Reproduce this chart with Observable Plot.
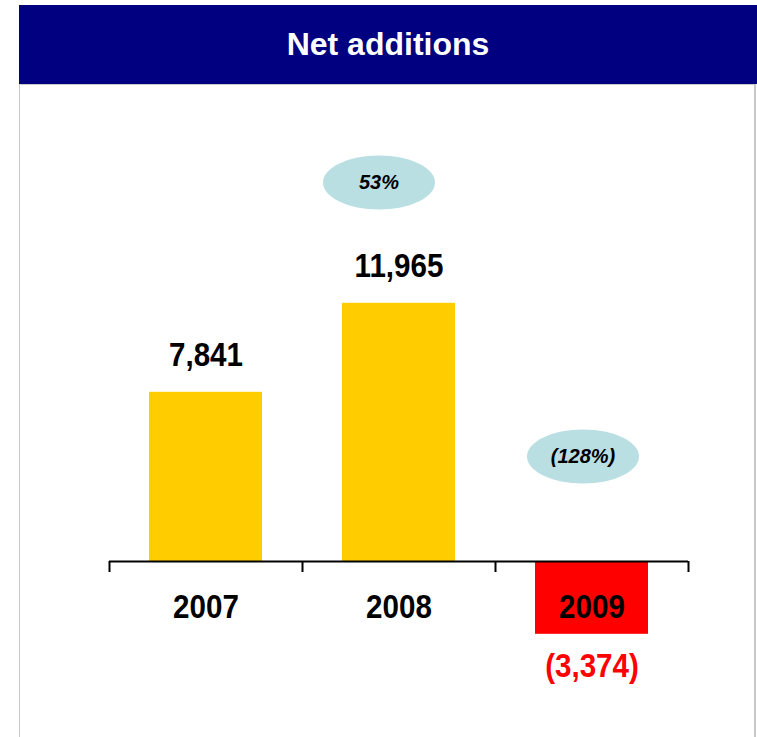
<!DOCTYPE html>
<html>
<head>
<meta charset="utf-8">
<script src="https://cdn.jsdelivr.net/npm/d3@7"></script>
<script src="https://cdn.jsdelivr.net/npm/@observablehq/plot@0.6"></script>
<style>
  html, body { margin: 0; padding: 0; background: #fff; overflow: hidden; }
  body { width: 757px; height: 737px; position: relative; font-family: "Liberation Sans", Arial, sans-serif; }
  #header {
    position: absolute; left: 19px; top: 5px; width: 738px; height: 79px;
    background: #000080; color: #fff; font-weight: bold; font-size: 32px;
    display: flex; align-items: center; justify-content: center;
  }
  #panel {
    position: absolute; left: 19px; top: 84px; width: 734px; height: 700px;
    border: 1px solid #c8c8c8; border-right-width: 2px; box-sizing: content-box;
  }
  #chart { position: absolute; left: 0; top: 86px; }
</style>
</head>
<body>
<div id="header">Net additions</div>
<div id="panel"></div>
<div id="chart"></div>
<script>
// ---- data ----
const years = ["2007", "2008", "2009"];
const netAdditions = [7841, 11965, -3374];
const growthLabels = ["53%", "(128%)"];
const growthYears = ["2008", "2009"];
const growthLevel = [17560, 4870]; // annotation level in data units

const data = years.map((y, i) => ({year: y, value: netAdditions[i]}));
const growth = growthLabels.map((l, i) => ({year: growthYears[i], level: growthLevel[i], label: l}));

// ---- layout ----
const width = 757, height = 651;
const marginLeft = 109, marginRight = 69;
const step = (width - marginLeft - marginRight) / years.length;
const baseline = 475, pxPerUnit = 0.02158;
const yDomain = [-8000, 20000];
const yRange = [baseline - yDomain[0] * pxPerUnit, baseline - yDomain[1] * pxPerUnit];

const fmt = v => v < 0 ? `(${d3.format(",")(-v)})` : d3.format(",")(v);

const ellipseRx = 56, ellipseRy = 27;
const ellipse = {
  draw(ctx) {
    const rx = ellipseRx, ry = ellipseRy, k = 0.5523;
    ctx.moveTo(rx, 0);
    ctx.bezierCurveTo(rx, ry * k, rx * k, ry, 0, ry);
    ctx.bezierCurveTo(-rx * k, ry, -rx, ry * k, -rx, 0);
    ctx.bezierCurveTo(-rx, -ry * k, -rx * k, -ry, 0, -ry);
    ctx.bezierCurveTo(rx * k, -ry, rx, -ry * k, rx, 0);
    ctx.closePath();
  }
};
const ellipseShift = [-20, -9];
const font = "'Liberation Sans', Arial, sans-serif";
const bigSize = 32.5, bigSqueeze = 0.91;

const marks = [
  Plot.barY(data, {x: "year", y: "value", fill: d => d.value < 0 ? "#ff0000" : "#ffcc00"}),
  Plot.ruleY([0], {stroke: "#000", strokeWidth: 2}),
  Plot.ruleX(years, {x: d => d, y1: 0, y2: 0, dx: -step / 2, insetBottom: -11, stroke: "#000", strokeWidth: 2}),
  Plot.ruleX(years.slice(-1), {x: d => d, y1: 0, y2: 0, dx: step / 2, insetBottom: -11, stroke: "#000", strokeWidth: 2}),
  Plot.text(years, {x: d => d, y: 0, text: d => d, dy: 56, lineAnchor: "bottom",
    fontSize: bigSize, fontWeight: "bold", fill: "#000"}),
  Plot.text(data, {x: "year", y: "value", text: d => fmt(d.value),
    lineAnchor: "bottom", fontSize: bigSize, fontWeight: "bold", fill: "#000",
    filter: d => d.value >= 0, dy: -26}),
  Plot.text(data, {x: "year", y: "value", text: d => fmt(d.value),
    lineAnchor: "bottom", fontSize: bigSize, fontWeight: "bold", fill: "#ff0000",
    filter: d => d.value < 0, dy: 43})
];
growth.forEach((g, i) => {
  marks.push(Plot.dot([g], {x: "year", y: "level", symbol: ellipse, r: 10, fill: "#badfe3", stroke: null, dx: ellipseShift[i]}));
  marks.push(Plot.text([g], {x: "year", y: "level", text: "label", dx: ellipseShift[i],
    fontSize: 20, fontWeight: "bold", fontStyle: "italic", fill: "#000"}));
});

const chart = Plot.plot({
  width, height,
  marginLeft, marginRight, marginTop: 0, marginBottom: 0,
  style: {fontFamily: font, background: "transparent", overflow: "visible"},
  x: {domain: years, paddingInner: 0.415, paddingOuter: 0.2075, axis: null},
  y: {domain: yDomain, range: yRange, axis: null},
  marks
});
// slightly condense the large labels around their anchor point
d3.select(chart).selectAll("g[font-size='32.5'] text").each(function() {
  const t = d3.select(this);
  const tr = t.attr("transform");
  if (tr && tr.includes("translate")) {
    t.attr("transform", `${tr} scale(${bigSqueeze},1)`);
  } else {
    const x = +t.attr("x") || 0, y = +t.attr("y") || 0;
    t.attr("x", null).attr("y", null).attr("transform", `translate(${x},${y}) scale(${bigSqueeze},1)`);
  }
});
document.getElementById("chart").appendChild(chart);
</script>
</body>
</html>
